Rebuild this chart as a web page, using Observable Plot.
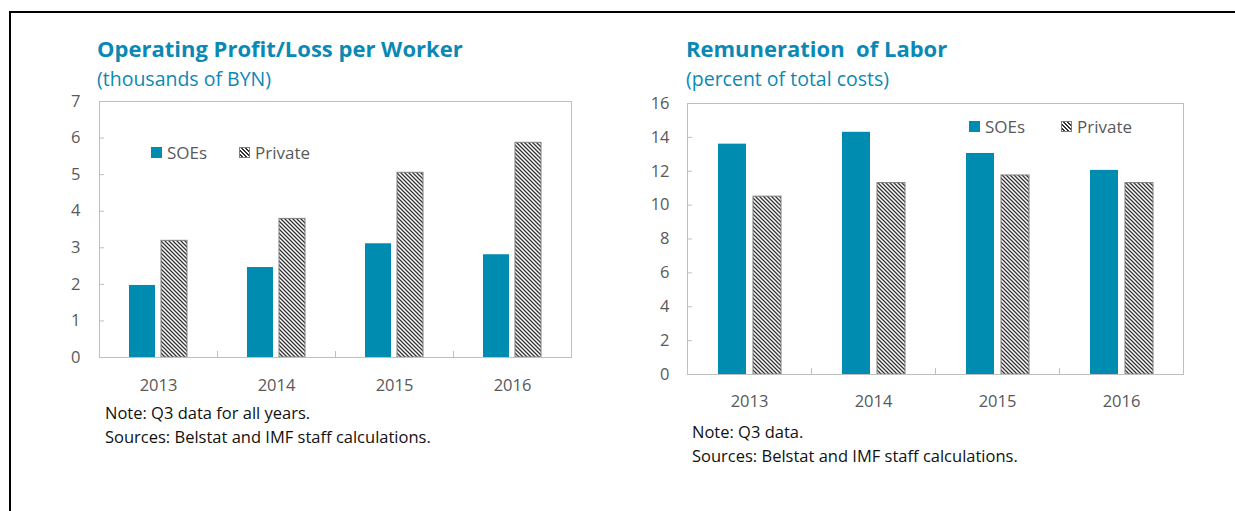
<!DOCTYPE html>
<html><head><meta charset="utf-8">
<script src="https://cdn.jsdelivr.net/npm/d3@7"></script>
<script src="https://cdn.jsdelivr.net/npm/@observablehq/plot@0.6"></script>
<style>
body{margin:0;background:#fff;}
#wrap{position:relative;width:1235px;height:511px;overflow:hidden;font-family:"Open Sans",sans-serif;}
.border{position:absolute;left:9px;top:11px;width:1240px;height:520px;border-top:2px solid #000;border-left:2px solid #000;}
.title{position:absolute;color:#0a89b5;font-weight:700;font-size:22px;line-height:1;white-space:pre;}
.sub{position:absolute;color:#0a89b5;font-size:19.5px;line-height:1;white-space:pre;}
.note{position:absolute;color:#111;font-size:16.5px;line-height:24px;white-space:pre;}
.chart{position:absolute;}
.legend{position:absolute;font-size:17px;color:#595959;line-height:1;display:flex;align-items:center;white-space:pre;}
.sw{display:inline-block;width:11px;height:11px;margin-right:5px;box-sizing:border-box;}
.sw.soe{background:#008bb0;}
.sw.prv{border:1px solid #808080;background:repeating-linear-gradient(45deg,#fff 0 1.4px,#333 1.4px 2.8px);}
</style></head>
<body><div id="wrap">
<div class="border"></div>
<div class="title" style="left:97px;top:37px">Operating Profit/Loss per Worker</div>
<div class="sub" style="left:97px;top:69px">(thousands of BYN)</div>
<div class="title" style="left:686px;top:37px">Remuneration  of Labor</div>
<div class="sub" style="left:686px;top:69px">(percent of total costs)</div>
<div id="c1" class="chart" style="left:0;top:90px"></div>
<div id="c2" class="chart" style="left:600px;top:90px"></div>
<div class="legend" style="left:151px;top:144px"><span class="sw soe"></span>SOEs<span style="display:inline-block;width:32px"></span><span class="sw prv"></span>Private</div>
<div class="legend" style="left:969px;top:118px"><span class="sw soe"></span>SOEs<span style="display:inline-block;width:36px"></span><span class="sw prv"></span>Private</div>
<div class="note" style="left:105px;top:401px">Note: Q3 data for all years.
Sources: Belstat and IMF staff calculations.</div>
<div class="note" style="left:692px;top:420px">Note: Q3 data.
Sources: Belstat and IMF staff calculations.</div>
</div>
<script>
const years = ["2013", "2014", "2015", "2016"];
const series = ["SOEs", "Private"];
const profitSOEs = [1.97, 2.46, 3.11, 2.81];
const profitPrivate = [3.19, 3.79, 5.05, 5.87];
const profitTicks = [0, 1, 2, 3, 4, 5, 6, 7];
const laborSOEs = [13.6, 14.3, 13.05, 12.05];
const laborPrivate = [10.5, 11.3, 11.75, 11.3];
const laborTicks = [0, 2, 4, 6, 8, 10, 12, 14, 16];

const SOE_COLOR = "#008bb0";
const GRID = "#bfbfbf";
const TEXT = "#595959";

function chart(soe, priv, ticks, o) {
  const data = years.flatMap((y, i) => [
    {year: y, series: "SOEs", value: soe[i]},
    {year: y, series: "Private", value: priv[i]}
  ]);
  const innerH = o.height - o.mt - o.mb;
  const svg = Plot.plot({
    width: o.width, height: o.height,
    marginLeft: o.ml, marginRight: o.mr, marginTop: o.mt, marginBottom: o.mb,
    style: {fontFamily: "'Open Sans', sans-serif", fontSize: "16.5px", background: "transparent", overflow: "visible"},
    fx: {domain: years, padding: 0, label: null},
    x: {domain: series, paddingInner: o.pi, paddingOuter: o.po, axis: null},
    y: {domain: [0, ticks[ticks.length - 1]], label: null},
    marks: [
      Plot.barY(data.filter(d => d.series === "SOEs"), {fx: "year", x: "series", y: "value", fill: SOE_COLOR}),
      Plot.barY(data.filter(d => d.series === "Private"), {fx: "year", x: "series", y: "value", fill: "url(#hatch" + o.id + ")", stroke: "#7f7f7f", strokeWidth: 1}),
      Plot.frame({anchor: "left", stroke: GRID, insetTop: innerH - 6}),
      Plot.frame({facet: "super", stroke: GRID}),
      Plot.axisY({ticks, tickSize: -5, fill: "none", stroke: GRID, label: null}),
      Plot.axisY({ticks, tickSize: 0, tickPadding: o.ypad, tickFormat: d3.format("d"), fill: TEXT, label: null}),
      Plot.axisFx({anchor: "bottom", tickSize: 0, tickPadding: o.xpad, fill: TEXT, label: null})
    ]
  });
  const defs = d3.select(svg).insert("defs", ":first-child");
  const p = defs.append("pattern").attr("id", "hatch" + o.id)
    .attr("patternUnits", "userSpaceOnUse").attr("width", 4).attr("height", 4);
  p.append("rect").attr("width", 4).attr("height", 4).attr("fill", "#fff");
  p.append("path").attr("d", "M-1,-1L5,5M3,-1L5,1M-1,3L1,5")
    .attr("stroke", "#333").attr("stroke-width", 1.3);
  return svg;
}

document.getElementById("c1").append(chart(profitSOEs, profitPrivate, profitTicks,
  {id: "L", width: 600, height: 310, ml: 97, mr: 28, mt: 11, mb: 43, pi: 0.18, po: 0.9, ypad: 19, xpad: 22}));
document.getElementById("c2").append(chart(laborSOEs, laborPrivate, laborTicks,
  {id: "R", width: 635, height: 330, ml: 86, mr: 51, mt: 13, mb: 46, pi: 0.2, po: 0.83, ypad: 18, xpad: 21}));
</script>
</body></html>
